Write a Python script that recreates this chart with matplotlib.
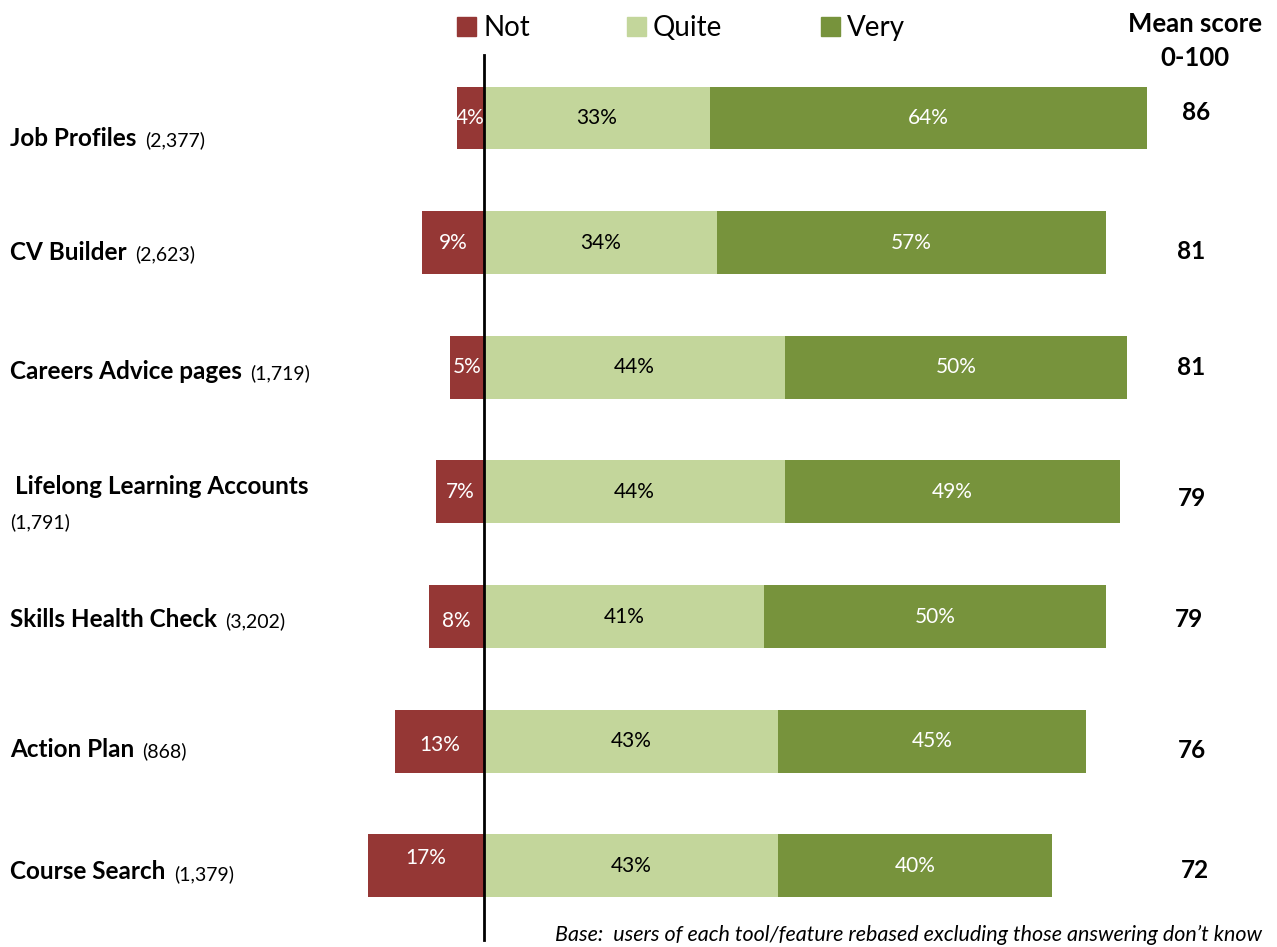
import matplotlib
matplotlib.use("Agg")
import matplotlib.pyplot as plt
from matplotlib import font_manager
from matplotlib.transforms import offset_copy

# pick a humanist sans close to the office look
avail = set(f.name for f in font_manager.fontManager.ttflist)
FONT = 'Lato' if 'Lato' in avail else 'DejaVu Sans'
plt.rcParams['font.family'] = [FONT, 'DejaVu Sans']

# survey data
tools = ['Job Profiles', 'CV Builder', 'Careers Advice pages',
         'Lifelong Learning Accounts', 'Skills Health Check',
         'Action Plan', 'Course Search']
bases = ['(2,377)', '(2,623)', '(1,719)', '(1,791)', '(3,202)', '(868)', '(1,379)']
not_pct = [4, 9, 5, 7, 8, 13, 17]
quite_pct = [33, 34, 44, 44, 41, 43, 43]
very_pct = [64, 57, 50, 49, 50, 45, 40]
mean_score = [86, 81, 81, 79, 79, 76, 72]

c_not = '#953735'
c_quite = '#C3D69B'
c_very = '#77933C'

W, H = 1277, 947
fig = plt.figure(figsize=(W / 100, H / 100), dpi=100)
ax = fig.add_axes([0, 0, 1, 1])

# zero at x=484px, 6.84px per percent; rows every 124.65px starting at 118px
px = 6.84
row_px = 124.65
ax.set_xlim(-484 / px, (W - 484) / px)
ax.set_ylim((H - 118) / row_px, -118 / row_px)
ax.axis('off')

# hand-placed text boxes drift a little from the bar centres (in pixels)
name_dy = [20, 10, 4, -5, 3, 8, 6]
mean_dy = [-5, 9, 0, 7, 3, 9, 5]
mean_dx = [4, -1, -1, 0, -3, 0, 3]
not_dy = [0, 0, 0, 0, 4, 4, -8]

rows = list(range(len(tools)))
bh = 0.505
ax.barh(rows, [-v for v in not_pct], height=bh, color=c_not)
ax.barh(rows, quite_pct, height=bh, color=c_quite)
ax.barh(rows, very_pct, left=quite_pct, height=bh, color=c_very)

for i in rows:
    ax.text(-not_pct[i] / 2, i + not_dy[i] / row_px, '%d%%' % not_pct[i],
            ha='center', va='center', fontsize=15, color='white')
    ax.text(quite_pct[i] / 2, i, '%d%%' % quite_pct[i], ha='center', va='center',
            fontsize=15, color='black')
    ax.text(quite_pct[i] + very_pct[i] / 2, i, '%d%%' % very_pct[i], ha='center',
            va='center', fontsize=15, color='white')
    ax.text((1192 + mean_dx[i] - 484) / px, i + mean_dy[i] / row_px,
            str(mean_score[i]), ha='center', va='center',
            fontsize=17.5, fontweight='bold')

# zero line
ax.plot([0, 0], [(55 - 118) / row_px, (940 - 118) / row_px],
        color='black', lw=2, clip_on=False)

# category labels: bold name followed by the base size
fig.canvas.draw()
renderer = fig.canvas.get_renderer()
x0 = (10 - 484) / px
for i in rows:
    yl = i + name_dy[i] / row_px
    if tools[i] == 'Lifelong Learning Accounts':
        ax.text(x0 + 5 / px, yl, tools[i], ha='left', va='center',
                fontsize=17.5, fontweight='bold')
        ax.text(x0, yl + 35 / row_px, bases[i], ha='left', va='center', fontsize=14)
        continue
    t = ax.text(x0, yl, tools[i], ha='left', va='center',
                fontsize=17.5, fontweight='bold')
    bb = t.get_window_extent(renderer)
    trans = offset_copy(ax.transData, fig=fig, x=bb.width / fig.dpi * 72 + 6,
                        y=0, units='points')
    ax.text(x0, yl + 2 / row_px, bases[i], ha='left', va='center', fontsize=14,
            transform=trans)

# legend
leg_items = [('Not', c_not, 457), ('Quite', c_quite, 627), ('Very', c_very, 821)]
for name, col, xp in leg_items:
    fig.patches.append(plt.Rectangle((xp / W, 1 - 36 / H), 19 / W, 19 / H,
                                     transform=fig.transFigure, color=col))
    fig.text((xp + 26) / W, 1 - 28 / H, name, ha='left', va='center', fontsize=20)

fig.text(1195 / W, 1 - 24 / H, 'Mean score', ha='center', va='center',
         fontsize=18.5, fontweight='bold')
fig.text(1195 / W, 1 - 58 / H, '0-100', ha='center', va='center',
         fontsize=18.5, fontweight='bold')

fig.text(1262 / W, 1 - 935 / H,
         'Base:  users of each tool/feature rebased excluding those answering don\u2019t know',
         ha='right', va='center', fontsize=15.5, style='italic')

fig.savefig('out.png', dpi=100)
